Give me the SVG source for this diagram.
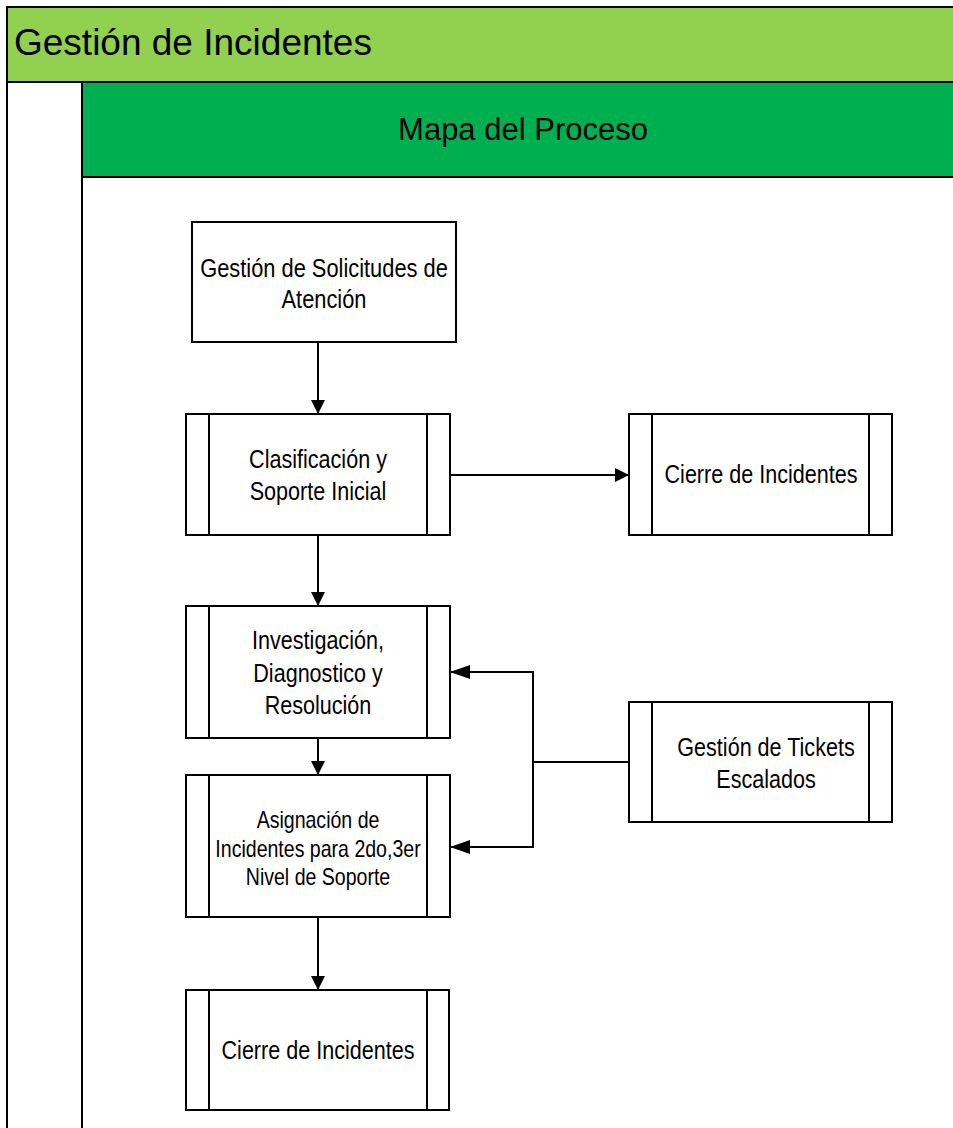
<svg xmlns="http://www.w3.org/2000/svg" width="953" height="1128" viewBox="0 0 953 1128">
  <style>
    .frame { fill: #ffffff; stroke: #000000; stroke-width: 2; }
    .pool-head { fill: #92D050; stroke: #000000; stroke-width: 2; }
    .lane-head { fill: #00B050; stroke: #000000; stroke-width: 2; }
    .box { fill: #ffffff; stroke: #000000; stroke-width: 2; }
    .bar { stroke: #000000; stroke-width: 2; fill: none; }
    .conn { stroke: #000000; stroke-width: 2; fill: none; }
    .title { font-family: "Liberation Sans", Arial, sans-serif; font-size: 37px; fill: #000000; }
    .lane-title { font-family: "Liberation Sans", Arial, sans-serif; font-size: 31px; fill: #000000; text-anchor: middle; }
    .lbl { font-family: "Liberation Sans", Arial, sans-serif; font-size: 26px; fill: #000000; text-anchor: middle; }
    .lbl-sm { font-family: "Liberation Sans", Arial, sans-serif; font-size: 23px; fill: #000000; text-anchor: middle; }
  </style>
  <defs>
    <marker id="arrow" viewBox="0 0 14 14" refX="14" refY="7" markerWidth="14" markerHeight="14" markerUnits="userSpaceOnUse" orient="auto">
      <path d="M0,0 L14,7 L0,14 Z" fill="#000000"/>
    </marker>
    <marker id="arrow-long" viewBox="0 0 20 14" refX="20" refY="7" markerWidth="20" markerHeight="14" markerUnits="userSpaceOnUse" orient="auto">
      <path d="M0,0 L20,7 L0,14 Z" fill="#000000"/>
    </marker>
  </defs>

  <rect width="953" height="1128" fill="#ffffff"/>

  <!-- pool and lane -->
  <g id="pool">
    <rect class="frame" x="7" y="7" width="960" height="1140"/>
    <rect class="pool-head" x="7" y="7" width="960" height="75"/>
    <text class="title" x="14" y="55">Gestión de Incidentes</text>
  </g>
  <g id="lane">
    <line class="bar" x1="82" y1="82" x2="82" y2="1140"/>
    <rect class="lane-head" x="82" y="82" width="890" height="95"/>
    <text class="lane-title" x="523" y="140">Mapa del Proceso</text>
  </g>

  <!-- connectors -->
  <g id="connectors">
    <line class="conn" x1="318" y1="342" x2="318" y2="414" marker-end="url(#arrow)"/>
    <line class="conn" x1="450" y1="475" x2="629" y2="475" marker-end="url(#arrow)"/>
    <line class="conn" x1="318" y1="535" x2="318" y2="606" marker-end="url(#arrow)"/>
    <line class="conn" x1="318" y1="738" x2="318" y2="775" marker-end="url(#arrow)"/>
    <line class="conn" x1="318" y1="917" x2="318" y2="990" marker-end="url(#arrow)"/>
    <line class="conn" x1="629" y1="762" x2="533" y2="762"/>
    <polyline class="conn" points="533,762 533,672 450,672" marker-end="url(#arrow-long)"/>
    <polyline class="conn" points="533,762 533,847 450,847" marker-end="url(#arrow-long)"/>
  </g>

  <!-- process nodes -->
  <g id="node-solicitudes">
    <rect class="box" x="192" y="222" width="264" height="120"/>
    <g transform="translate(324 0) scale(0.84 1)">
      <text class="lbl" x="0" y="277">Gestión de Solicitudes de</text>
      <text class="lbl" x="0" y="308">Atención</text>
    </g>
  </g>

  <g id="node-clasificacion">
    <rect class="box" x="186" y="414" width="264" height="121"/>
    <line class="bar" x1="209" y1="414" x2="209" y2="535"/>
    <line class="bar" x1="427" y1="414" x2="427" y2="535"/>
    <g transform="translate(318 0) scale(0.83 1)">
      <text class="lbl" x="0" y="468">Clasificación y</text>
      <text class="lbl" x="0" y="500">Soporte Inicial</text>
    </g>
  </g>

  <g id="node-cierre-derecha">
    <rect class="box" x="629" y="414" width="263" height="121"/>
    <line class="bar" x1="652" y1="414" x2="652" y2="535"/>
    <line class="bar" x1="869" y1="414" x2="869" y2="535"/>
    <g transform="translate(761 0) scale(0.83 1)">
      <text class="lbl" x="0" y="483">Cierre de Incidentes</text>
    </g>
  </g>

  <g id="node-investigacion">
    <rect class="box" x="186" y="606" width="264" height="132"/>
    <line class="bar" x1="209" y1="606" x2="209" y2="738"/>
    <line class="bar" x1="427" y1="606" x2="427" y2="738"/>
    <g transform="translate(318 0) scale(0.83 1)">
      <text class="lbl" x="0" y="649">Investigación,</text>
      <text class="lbl" x="0" y="682">Diagnostico y</text>
      <text class="lbl" x="0" y="714">Resolución</text>
    </g>
  </g>

  <g id="node-asignacion">
    <rect class="box" x="186" y="775" width="264" height="142"/>
    <line class="bar" x1="209" y1="775" x2="209" y2="917"/>
    <line class="bar" x1="427" y1="775" x2="427" y2="917"/>
    <g transform="translate(318 0) scale(0.85 1)">
      <text class="lbl-sm" x="0" y="828">Asignación de</text>
      <text class="lbl-sm" x="0" y="857">Incidentes para 2do,3er</text>
      <text class="lbl-sm" x="0" y="885">Nivel de Soporte</text>
    </g>
  </g>

  <g id="node-tickets">
    <rect class="box" x="629" y="702" width="263" height="120"/>
    <line class="bar" x1="652" y1="702" x2="652" y2="822"/>
    <line class="bar" x1="869" y1="702" x2="869" y2="822"/>
    <g transform="translate(766 0) scale(0.83 1)">
      <text class="lbl" x="0" y="756">Gestión de Tickets</text>
      <text class="lbl" x="0" y="788">Escalados</text>
    </g>
  </g>

  <g id="node-cierre-final">
    <rect class="box" x="186" y="990" width="263" height="120"/>
    <line class="bar" x1="209" y1="990" x2="209" y2="1110"/>
    <line class="bar" x1="427" y1="990" x2="427" y2="1110"/>
    <g transform="translate(318 0) scale(0.83 1)">
      <text class="lbl" x="0" y="1059">Cierre de Incidentes</text>
    </g>
  </g>
</svg>
